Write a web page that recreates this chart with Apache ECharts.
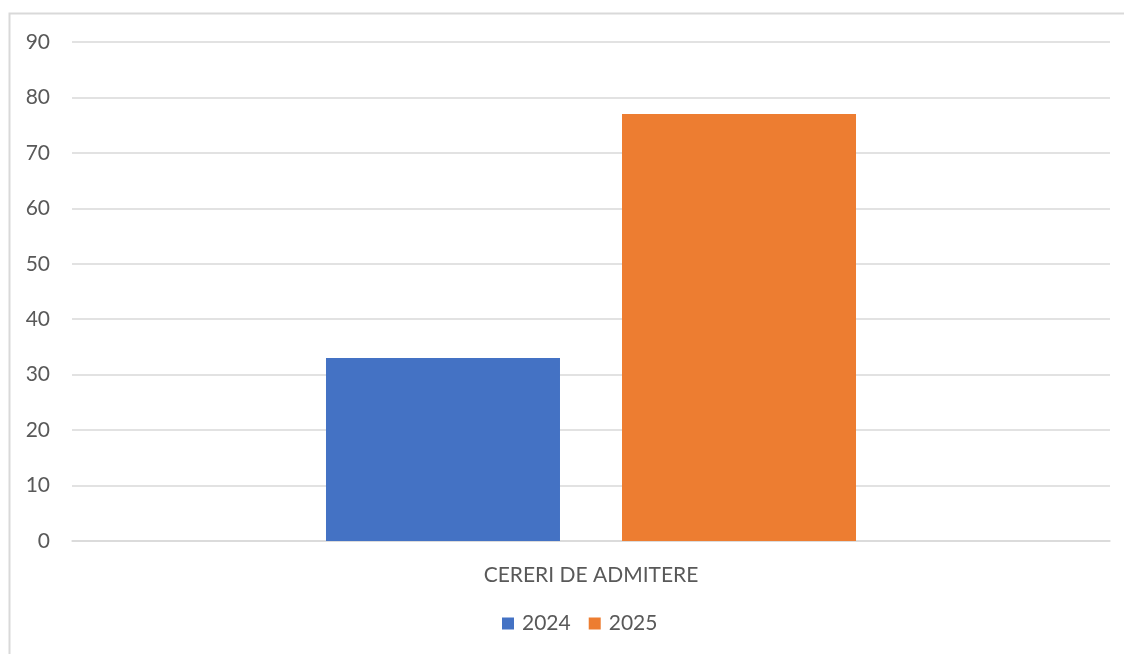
<!DOCTYPE html>
<html>
<head>
<meta charset="utf-8">
<script src="https://cdn.jsdelivr.net/npm/echarts@6/dist/echarts.min.js"></script>
<style>html,body{margin:0;padding:0;background:#fff;}#c{width:1124px;height:654px;}</style>
</head>
<body>
<div id="c"></div>
<script>
const categories = ['CERERI DE ADMITERE'];
const seriesNames = ['2024', '2025'];
const values2024 = [33];
const values2025 = [77];
const colors = ['#4472C4', '#ED7D31'];

const chart = echarts.init(document.getElementById('c'));
const font = 'Lato, "Open Sans", sans-serif';
chart.setOption({
  animation: false,
  backgroundColor: '#fff',
  textStyle: { fontFamily: font },
  graphic: [{
    type: 'rect', silent: true, z: -1,
    shape: { x: 9.5, y: 13.5, width: 1130, height: 660 },
    style: { fill: 'none', stroke: '#d9d9d9', lineWidth: 2 }
  }],
  grid: { left: 72, right: 14, top: 42, bottom: 113, containLabel: false },
  legend: {
    data: seriesNames,
    bottom: 15,
    left: 497,
    itemWidth: 12, itemHeight: 12, itemGap: 18,
    icon: 'rect',
    textStyle: { fontFamily: font, fontSize: 21, color: '#595959', padding: [0, 0, 0, 3] }
  },
  xAxis: {
    type: 'category',
    data: categories,
    axisLine: { show: true, lineStyle: { color: '#d9d9d9', width: 1.5 } },
    axisTick: { show: false },
    axisLabel: { fontFamily: font, fontSize: 21, color: '#595959', margin: 24 }
  },
  yAxis: {
    type: 'value', min: 0, max: 90, interval: 10,
    axisLine: { show: false },
    axisTick: { show: false },
    axisLabel: { fontFamily: font, fontSize: 21, color: '#595959', margin: 22 },
    splitLine: { lineStyle: { color: '#d9d9d9', width: 1.5 } }
  },
  series: [
    { name: seriesNames[0], type: 'bar', data: values2024, barWidth: 234, barGap: '26.5%', itemStyle: { color: colors[0] } },
    { name: seriesNames[1], type: 'bar', data: values2025, barWidth: 234, barGap: '26.5%', itemStyle: { color: colors[1] } }
  ]
});
</script>
</body>
</html>
